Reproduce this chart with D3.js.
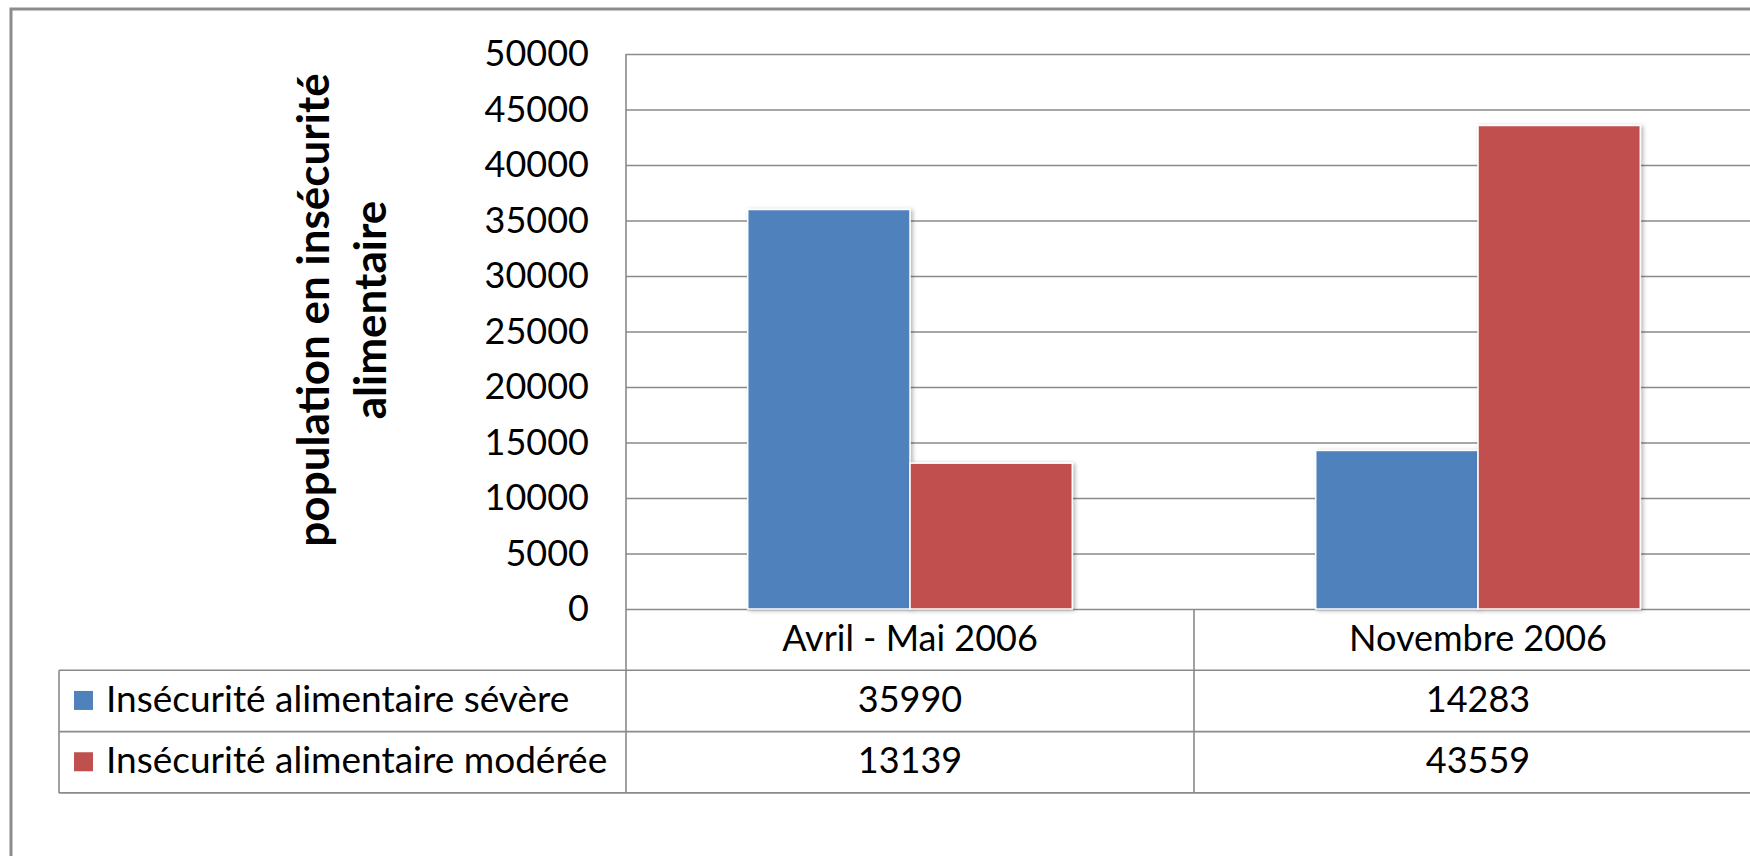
<!DOCTYPE html>
<html><head><meta charset="utf-8">
<script src="https://cdn.jsdelivr.net/npm/d3@7"></script>
<style>
body{margin:0;background:#fff}
svg{display:block}
text{font-family:Lato,"Open Sans",sans-serif;fill:#000}
</style>
</head><body>
<svg id="chart" width="1750" height="856"></svg>
<script>
// ---- data ----
const categories = ["Avril - Mai 2006", "Novembre 2006"];
const seriesNames = ["Insécurité alimentaire sévère", "Insécurité alimentaire modérée"];
const severeValues = [35990, 14283];
const moderateValues = [13139, 43559];
const yTickValues = [0, 5000, 10000, 15000, 20000, 25000, 30000, 35000, 40000, 45000, 50000];
const yTitleLines = ["population en insécurité", "alimentaire"];
const seriesColors = ["#4F81BD", "#C0504D"];

const seriesValues = [severeValues, moderateValues];

// ---- layout ----
const W = 1750, H = 856;
const plotLeft = 626, plotTop = 54, plotBottom = 609, bandWidth = 568;
const tableLeft = 59, rowH = 61.3;
const rowTops = [plotBottom, plotBottom + rowH, plotBottom + 2 * rowH, plotBottom + 3 * rowH];
const lineColor = "#8a8a8a";

const svg = d3.select("#chart");
svg.append("rect").attr("width", W).attr("height", H).attr("fill", "#fff");

const defs = svg.append("defs");
const f = defs.append("filter").attr("id", "shadow").attr("x", "-10%").attr("y", "-10%").attr("width", "130%").attr("height", "130%");
f.append("feDropShadow").attr("dx", 2).attr("dy", 1).attr("stdDeviation", 2.2).attr("flood-color", "#000").attr("flood-opacity", 0.3);

const x0 = d3.scaleBand().domain(categories).range([plotLeft, plotLeft + bandWidth * categories.length]).paddingInner(0).paddingOuter(0);
const x1 = d3.scaleBand().domain(seriesNames).range([0, x0.bandwidth()]).paddingInner(0).paddingOuter(0.75);
const y = d3.scaleLinear().domain([0, 50000]).range([plotBottom, plotTop]);

// outer chart border (clipped at right/bottom)
svg.append("path").attr("d", `M11,${H} L11,9 L${W},9`).attr("fill", "none").attr("stroke", "#8c8c8c").attr("stroke-width", 3);

// gridlines via axis
const grid = svg.append("g").attr("transform", `translate(${plotLeft},0)`)
  .call(d3.axisRight(y).tickValues(yTickValues).tickSize(W - plotLeft).tickFormat(""));
grid.select(".domain").remove();
grid.selectAll(".tick line").attr("stroke", lineColor).attr("stroke-width", 1.6);

// y tick labels via axis
const yAx = svg.append("g").attr("transform", `translate(${plotLeft},0)`)
  .call(d3.axisLeft(y).tickValues(yTickValues).tickSize(0).tickPadding(37).tickFormat(d3.format("d")));
yAx.select(".domain").remove();
yAx.selectAll(".tick text").attr("font-size", 36).attr("font-family", "Lato,'Open Sans',sans-serif").attr("fill", "#000").attr("dy", "0.32em");

// bars
const barG = svg.append("g");
categories.forEach((cat, ci) => {
  seriesNames.forEach((s, si) => {
    const v = seriesValues[si][ci];
    barG.append("rect")
      .attr("x", x0(cat) + x1(s))
      .attr("y", y(v))
      .attr("width", x1.bandwidth())
      .attr("height", y(0) - y(v))
      .attr("fill", seriesColors[si])
      .attr("stroke", "#fff").attr("stroke-width", 1.5)
      .attr("filter", "url(#shadow)");
  });
});

// table lines
const tl = svg.append("g").attr("stroke", lineColor).attr("stroke-width", 1.6).attr("fill", "none");
tl.append("line").attr("x1", plotLeft).attr("x2", plotLeft).attr("y1", plotTop).attr("y2", rowTops[3]);
[1, 2, 3].forEach(i => tl.append("line").attr("x1", tableLeft).attr("x2", W).attr("y1", rowTops[i]).attr("y2", rowTops[i]));
tl.append("line").attr("x1", tableLeft).attr("x2", tableLeft).attr("y1", rowTops[1]).attr("y2", rowTops[3]);
categories.forEach((cat, ci) => {
  const xr = x0(cat) + x0.bandwidth();
  if (xr < W) tl.append("line").attr("x1", xr).attr("x2", xr).attr("y1", rowTops[0]).attr("y2", rowTops[3]);
});

// category header labels
const tg = svg.append("g").attr("font-size", 36);
categories.forEach(cat => {
  tg.append("text").attr("x", x0(cat) + x0.bandwidth() / 2).attr("y", (rowTops[0] + rowTops[1]) / 2 + 11)
    .attr("text-anchor", "middle").text(cat);
});
// data rows
seriesNames.forEach((s, si) => {
  const cy = (rowTops[si + 1] + rowTops[si + 2]) / 2;
  svg.append("rect").attr("x", 74).attr("y", cy - 10).attr("width", 19).attr("height", 19).attr("fill", seriesColors[si]);
  tg.append("text").attr("x", 106).attr("y", cy + 11).attr("font-size", 37).text(s);
  categories.forEach((cat, ci) => {
    tg.append("text").attr("x", x0(cat) + x0.bandwidth() / 2).attr("y", cy + 11)
      .attr("text-anchor", "middle").text(seriesValues[si][ci]);
  });
});

// y axis title
const titleX = [329, 386];
yTitleLines.forEach((t, i) => {
  svg.append("text").attr("transform", `translate(${titleX[i]},310) rotate(-90)`)
    .attr("text-anchor", "middle").attr("font-size", 44).attr("font-weight", "bold").text(t);
});
</script>
</body></html>
